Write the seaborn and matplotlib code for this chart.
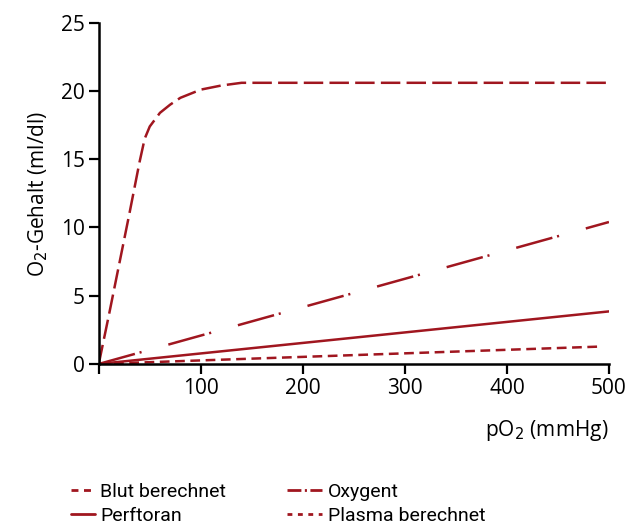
import matplotlib
matplotlib.use("Agg")
import matplotlib.pyplot as plt
from matplotlib.lines import Line2D
import seaborn as sns
import pandas as pd

# data
blut_po2 = [0, 10, 20, 30, 40, 45, 50, 60, 70, 80, 90, 100, 120, 140, 160, 500]
blut_o2 = [0, 3.6, 7.3, 11.0, 14.8, 16.5, 17.4, 18.4, 19.0, 19.5, 19.8, 20.1, 20.4, 20.6, 20.6, 20.6]
oxygent_po2 = [0, 500]
oxygent_o2 = [0, 10.4]
perftoran_po2 = [0, 500]
perftoran_o2 = [0, 3.85]
plasma_po2 = [0, 490]
plasma_o2 = [0, 1.27]

series = ["Blut berechnet", "Oxygent", "Perftoran", "Plasma berechnet"]
x_ticks = [0, 100, 200, 300, 400, 500]
x_ticklabels = ["", "100", "200", "300", "400", "500"]
y_ticks = [0, 5, 10, 15, 20, 25]

data = {
    series[0]: pd.DataFrame({"pO2": blut_po2, "O2": blut_o2}),
    series[1]: pd.DataFrame({"pO2": oxygent_po2, "O2": oxygent_o2}),
    series[2]: pd.DataFrame({"pO2": perftoran_po2, "O2": perftoran_o2}),
    series[3]: pd.DataFrame({"pO2": plasma_po2, "O2": plasma_o2}),
}

sns.set_style("ticks")
plt.rcParams["font.family"] = ["Open Sans", "DejaVu Sans"]
plt.rcParams["lines.scale_dashes"] = False
plt.rcParams["text.color"] = "black"
plt.rcParams["axes.labelcolor"] = "black"
plt.rcParams["xtick.color"] = "black"
plt.rcParams["ytick.color"] = "black"
plt.rcParams["axes.edgecolor"] = "black"

red = "#a0161f"
styles = {
    series[0]: (0, (14, 4.5)),
    series[1]: (0, (27, 3.5, 1.5, 20)),
    series[2]: "-",
    series[3]: (0, (7, 4)),
}
# shorter patterns for the legend keys, as in the original
legend_styles = {
    series[0]: (0, (5, 4)),
    series[1]: (0, (10, 2.5, 1.5, 2.5)),
    series[2]: "-",
    series[3]: (0, (3.5, 4)),
}

fig = plt.figure(figsize=(6.33, 5.29), dpi=100)
ax = fig.add_axes([0.156, 0.312, 0.806, 0.645])
for name in series:
    sns.lineplot(data=data[name], x="pO2", y="O2", color=red, linestyle=styles[name],
                 estimator=None, sort=False, linewidth=1.8, ax=ax)

ax.set_xlim(0, 500)
ax.set_ylim(0, 25)
ax.set_xticks(x_ticks)
ax.set_xticklabels(x_ticklabels)
ax.set_yticks(y_ticks)
ax.tick_params(axis="both", length=7, width=1.6, labelsize=15, pad=3)
for s in ["left", "bottom"]:
    ax.spines[s].set_linewidth(1.8)
sns.despine(ax=ax)
ax.set_ylabel("O$_2$-Gehalt (ml/dl)", fontsize=15, labelpad=8)
ax.set_xlabel("pO$_2$ (mmHg)", fontsize=15, loc="right", labelpad=14)

keys = {name: Line2D([], [], color=red, linewidth=2.0, linestyle=legend_styles[name]) for name in series}
legend_font = ["Roboto", "DejaVu Sans"]
fig.legend([keys[series[0]], keys[series[2]]], [series[0], series[2]],
           loc="upper left", bbox_to_anchor=(0.085, 0.12), frameon=False,
           handlelength=1.2, handletextpad=0.3, labelspacing=0.3,
           prop={"family": legend_font, "size": 14})
fig.legend([keys[series[1]], keys[series[3]]], [series[1], series[3]],
           loc="upper left", bbox_to_anchor=(0.425, 0.12), frameon=False,
           handlelength=1.85, handletextpad=0.3, labelspacing=0.3,
           prop={"family": legend_font, "size": 14})

fig.savefig("out.png", dpi=100)
